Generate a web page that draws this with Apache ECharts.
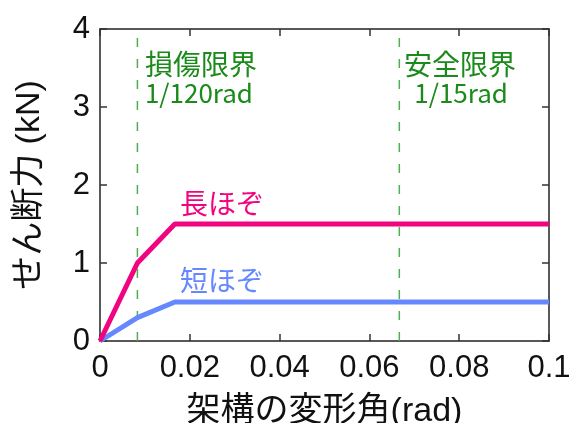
<!DOCTYPE html>
<html><head><meta charset="utf-8">
<script src="https://cdn.jsdelivr.net/npm/echarts@6/dist/echarts.min.js"></script>
<style>html,body{margin:0;padding:0;background:#fff}#c{width:571px;height:423px}</style>
</head><body><div id="c"></div>
<script>
var longX = [0, 1/120, 1/60, 0.1];
var longY = [0, 1.0, 1.5, 1.5];
var shortX = [0, 1/120, 1/60, 0.1];
var shortY = [0, 0.3, 0.5, 0.5];
var limitX = [1/120, 1/15];
var limitNames = ['損傷限界', '安全限界'];
var limitRads = ['1/120rad', '1/15rad'];
var xTicks = [0, 0.02, 0.04, 0.06, 0.08, 0.1];
var yTicks = [0, 1, 2, 3, 4];
var xName = '架構の変形角(rad)';
var yName = 'せん断力 (kN)';
var longName = '長ほぞ', shortName = '短ほぞ';

var F = '"Liberation Sans", Arial, "Noto Sans CJK JP", sans-serif';
var FJ = '"Noto Sans CJK JP", sans-serif';
var pink = '#F0047F', blue = '#6688FF', green = '#1A8A1A', dgreen = '#4CAF50';

function zip(a, b) { return a.map(function (v, i) { return [v, b[i]]; }); }

var chart = echarts.init(document.getElementById('c'));
var axisCommon = {
  axisLine: { show: true, onZero: false, lineStyle: { color: '#222', width: 1.5 } },
  axisTick: { show: true, inside: true, length: 7, lineStyle: { color: '#333', width: 1.5 } },
  splitLine: { show: false }
};
function lbl(x, y, text, size, color) {
  return { coord: [x, y], label: { show: true, position: 'inside', align: 'left', verticalAlign: 'middle',
    formatter: text, fontSize: size, color: color, fontFamily: FJ } };
}
var limitSeries = limitX.map(function (x) {
  return { type: 'line', data: [[x, 0], [x, 4]], showSymbol: false, silent: true, z: 1,
    itemStyle: { color: dgreen },
    lineStyle: { color: dgreen, width: 1.5, type: [9, 12] } };
});
chart.setOption({
  animation: false,
  grid: { left: 100, right: 22, top: 29, bottom: 82, containLabel: false, outerBoundsMode: 'none' },
  xAxis: [
    Object.assign({ type: 'value', min: 0, max: 0.1, interval: 0.02, position: 'bottom',
      name: xName, nameLocation: 'middle', nameGap: 54,
      nameTextStyle: { fontSize: 34, color: '#111', fontFamily: F },
      axisLabel: { fontSize: 31, color: '#111', fontFamily: F, margin: 12,
        formatter: function (v) { return xTicks.indexOf(+v.toFixed(2)) >= 0 ? String(+v.toFixed(2)) : ''; } }
    }, axisCommon),
    Object.assign({ type: 'value', min: 0, max: 0.1, interval: 0.02, position: 'top',
      axisLabel: { show: false } }, axisCommon)
  ],
  yAxis: [
    Object.assign({ type: 'value', min: 0, max: 4, interval: 1, position: 'left',
      name: yName, nameLocation: 'middle', nameGap: 53, nameRotate: 90,
      nameTextStyle: { fontSize: 34, color: '#111', fontFamily: F },
      axisLabel: { fontSize: 31, color: '#111', fontFamily: F, margin: 10,
        formatter: function (v) { return yTicks.indexOf(v) >= 0 ? String(v) : ''; } }
    }, axisCommon),
    Object.assign({ type: 'value', min: 0, max: 4, interval: 1, position: 'right',
      axisLabel: { show: false } }, axisCommon)
  ],
  series: limitSeries.concat([
    { type: 'line', name: shortName, data: zip(shortX, shortY), showSymbol: false,
      lineStyle: { color: blue, width: 5 }, z: 3,
      markPoint: { symbolSize: 0, data: [ lbl(0.0178, 0.78, shortName, 28, blue) ] }
    },
    { type: 'line', name: longName, data: zip(longX, longY), showSymbol: false,
      lineStyle: { color: pink, width: 5 }, z: 4,
      markPoint: { symbolSize: 0, data: [ lbl(0.0178, 1.77, longName, 28, pink) ] }
    },
    { type: 'scatter', data: [], markPoint: { symbolSize: 0, data: [
        lbl(0.01, 3.55, limitNames[0], 28, green),
        lbl(0.01, 3.18, limitRads[0], 26, green),
        lbl(0.0677, 3.55, limitNames[1], 28, green),
        lbl(0.07, 3.18, limitRads[1], 26, green)
      ] } }
  ])
});
</script></body></html>
